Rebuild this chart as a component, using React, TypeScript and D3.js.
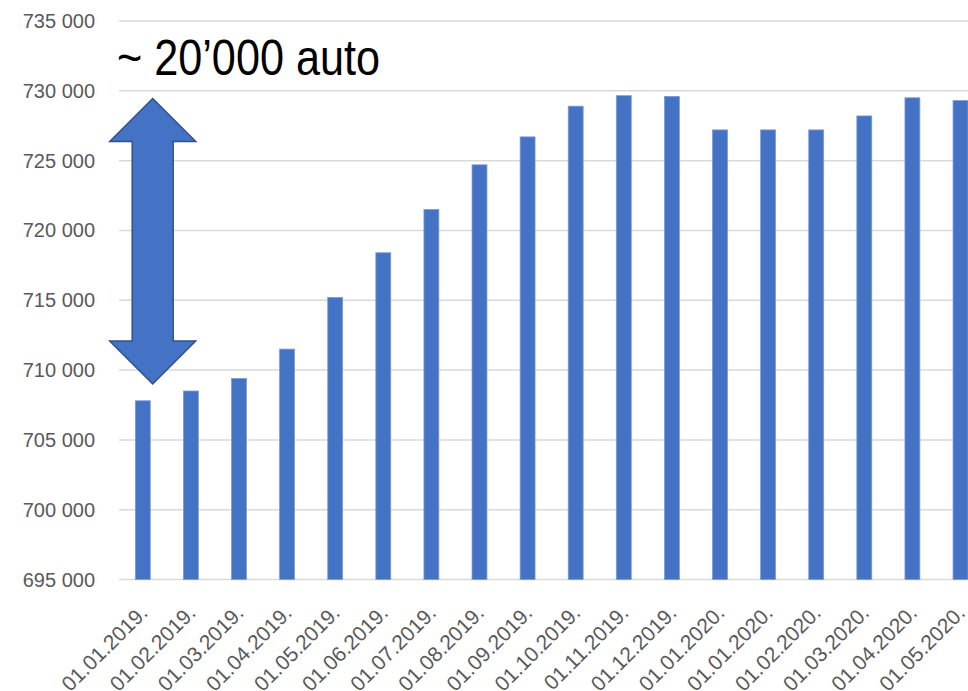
import React from 'react'
import * as d3 from 'd3'

// data
const dates = [
  '01.01.2019.', '01.02.2019.', '01.03.2019.', '01.04.2019.', '01.05.2019.', '01.06.2019.',
  '01.07.2019.', '01.08.2019.', '01.09.2019.', '01.10.2019.', '01.11.2019.', '01.12.2019.',
  '01.01.2020.', '01.01.2020.', '01.02.2020.', '01.03.2020.', '01.04.2020.', '01.05.2020.'
]
const cars = [
  707800, 708500, 709400, 711500, 715200, 718400,
  721500, 724700, 726700, 728900, 729650, 729600,
  727200, 727200, 727200, 728200, 729500, 729300
]
const yTicks = [695000, 700000, 705000, 710000, 715000, 720000, 725000, 730000, 735000]
const note = '~ 20’000 auto'
const arrowFrom = 709000
const arrowTo = 729450

export default function App() {
  const width = 968
  const height = 691
  const left = 118.75
  const step = 48.1

  const x = d3
    .scaleBand()
    .domain(dates.map((d, i) => i + ''))
    .range([left, left + step * dates.length])
    .paddingInner(0.69)
    .paddingOuter(0.345)

  const y = d3
    .scaleLinear()
    .domain([695000, 735000])
    .range([579.5, 21])

  const fmt = (v: number) => d3.format(',')(v).replace(/,/g, ' ')

  // double headed block arrow
  const cx = 152.7
  const top = y(arrowTo)
  const bot = y(arrowFrom)
  const headW = 43
  const shaftW = 20.5
  const headH = 43
  const arrow = [
    [cx, top],
    [cx + headW, top + headH],
    [cx + shaftW, top + headH],
    [cx + shaftW, bot - headH],
    [cx + headW, bot - headH],
    [cx, bot],
    [cx - headW, bot - headH],
    [cx - shaftW, bot - headH],
    [cx - shaftW, top + headH],
    [cx - headW, top + headH]
  ]

  return (
    <svg
      width={width}
      height={height}
      style={{ position: 'absolute', left: 0, top: 0 }}
      fontFamily="'Liberation Sans', Arial, sans-serif"
    >
      {yTicks.map(t => (
        <g key={t}>
          <line x1={119} x2={width} y1={y(t)} y2={y(t)} stroke="#d9d9d9" strokeWidth={1.5} />
          <text x={95} y={y(t)} dy="0.35em" textAnchor="end" fontSize={20} fill="#595959">
            {fmt(t)}
          </text>
        </g>
      ))}
      {cars.map((v, i) => (
        <rect
          key={i}
          x={x(i + '')}
          y={y(v)}
          width={x.bandwidth()}
          height={y(695000) - y(v)}
          fill="#4472c4"
          stroke="#7b9bd8"
          strokeWidth={0.8}
        />
      ))}
      {dates.map((d, i) => {
        const px = (x(i + '') as number) + x.bandwidth() / 2 + 6
        const py = 614
        return (
          <text
            key={i}
            transform={`translate(${px},${py}) rotate(-45)`}
            textAnchor="end"
            fontSize={21}
            fill="#595959"
          >
            {d}
          </text>
        )
      })}
      <polygon
        points={arrow.map(p => p.join(',')).join(' ')}
        fill="#4472c4"
        stroke="#2f528f"
        strokeWidth={1.5}
      />
      <text x={117} y={75} fontSize={50} textLength={263} lengthAdjust="spacingAndGlyphs" fill="#000">
        {note}
      </text>
    </svg>
  )
}
